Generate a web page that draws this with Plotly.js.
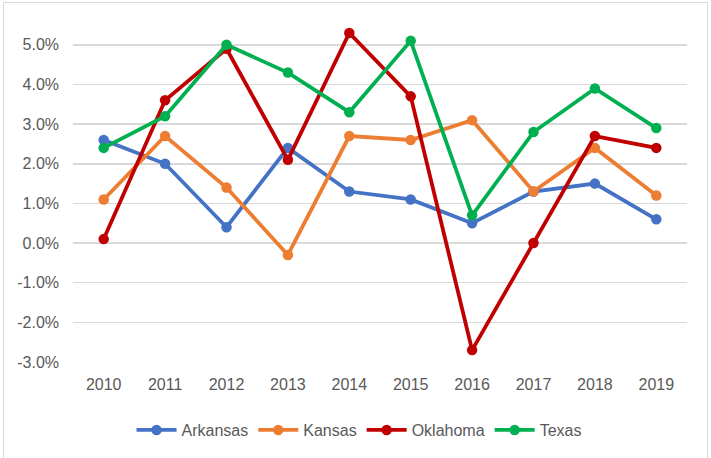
<!DOCTYPE html>
<html>
<head>
<meta charset="utf-8">
<script src="https://cdn.plot.ly/plotly-3.0.1.min.js"></script>
<style>
  html, body { margin: 0; padding: 0; background: #fff; }
  #chart { width: 711px; height: 458px; }
  #frame { position: absolute; left: 3px; top: 2px; width: 705px; height: 470px; border: 1px solid #d9d9d9; pointer-events: none; box-sizing: border-box; }
</style>
</head>
<body>
<div id="chart"></div>
<div id="frame"></div>
<script>
const years = ['2010','2011','2012','2013','2014','2015','2016','2017','2018','2019'];
const arkansas = [2.6, 2.0, 0.4, 2.4, 1.3, 1.1, 0.5, 1.3, 1.5, 0.6];
const kansas   = [1.1, 2.7, 1.4, -0.3, 2.7, 2.6, 3.1, 1.3, 2.4, 1.2];
const oklahoma = [0.1, 3.6, 4.9, 2.1, 5.3, 3.7, -2.7, 0.0, 2.7, 2.4];
const texas    = [2.4, 3.2, 5.0, 4.3, 3.3, 5.1, 0.7, 2.8, 3.9, 2.9];
const yTickVals = [-3, -2, -1, 0, 1, 2, 3, 4, 5];
const yTickText = ['-3.0%', '-2.0%', '-1.0%', '0.0%', '1.0%', '2.0%', '3.0%', '4.0%', '5.0%'];

const FONT = 'Liberation Sans, Arial, sans-serif';
const TXT = '#595959';

function series(name, vals, color) {
  return {
    type: 'scatter', mode: 'lines+markers', name: name,
    x: years, y: vals,
    line: { color: color, width: 3.8 },
    marker: { color: color, size: 10.5 },
    cliponaxis: false
  };
}

const data = [
  series('Arkansas', arkansas, '#4472C4'),
  series('Kansas', kansas, '#ED7D31'),
  series('Oklahoma', oklahoma, '#C00000'),
  series('Texas', texas, '#00B050')
];

const layout = {
  width: 711, height: 458,
  margin: { l: 73, r: 24, t: 25, b: 96 },
  paper_bgcolor: '#fff', plot_bgcolor: '#fff',
  font: { family: FONT, size: 16, color: TXT },
  showlegend: true,
  legend: {
    orientation: 'h', xref: 'container', x: 0.505, xanchor: 'center',
    yref: 'container', y: 0.061, yanchor: 'middle',
    font: { family: FONT, size: 16, color: TXT },
    itemwidth: 40, tracegroupgap: 0
  },
  xaxis: {
    type: 'category', range: [-0.5, 9.5],
    showgrid: false, zeroline: false, showline: false, ticks: '',
    tickfont: { family: FONT, size: 16, color: TXT },
    ticklabelstandoff: 11
  },
  yaxis: {
    range: [-3, 5.5], tickvals: yTickVals, ticktext: yTickText,
    showgrid: true, gridcolor: '#d9d9d9', gridwidth: 1.5,
    zeroline: false, showline: false, ticks: '',
    tickfont: { family: FONT, size: 16, color: TXT },
    ticklabelstandoff: 13
  }
};

Plotly.newPlot('chart', data, layout, { displayModeBar: false, staticPlot: true });
</script>
</body>
</html>
